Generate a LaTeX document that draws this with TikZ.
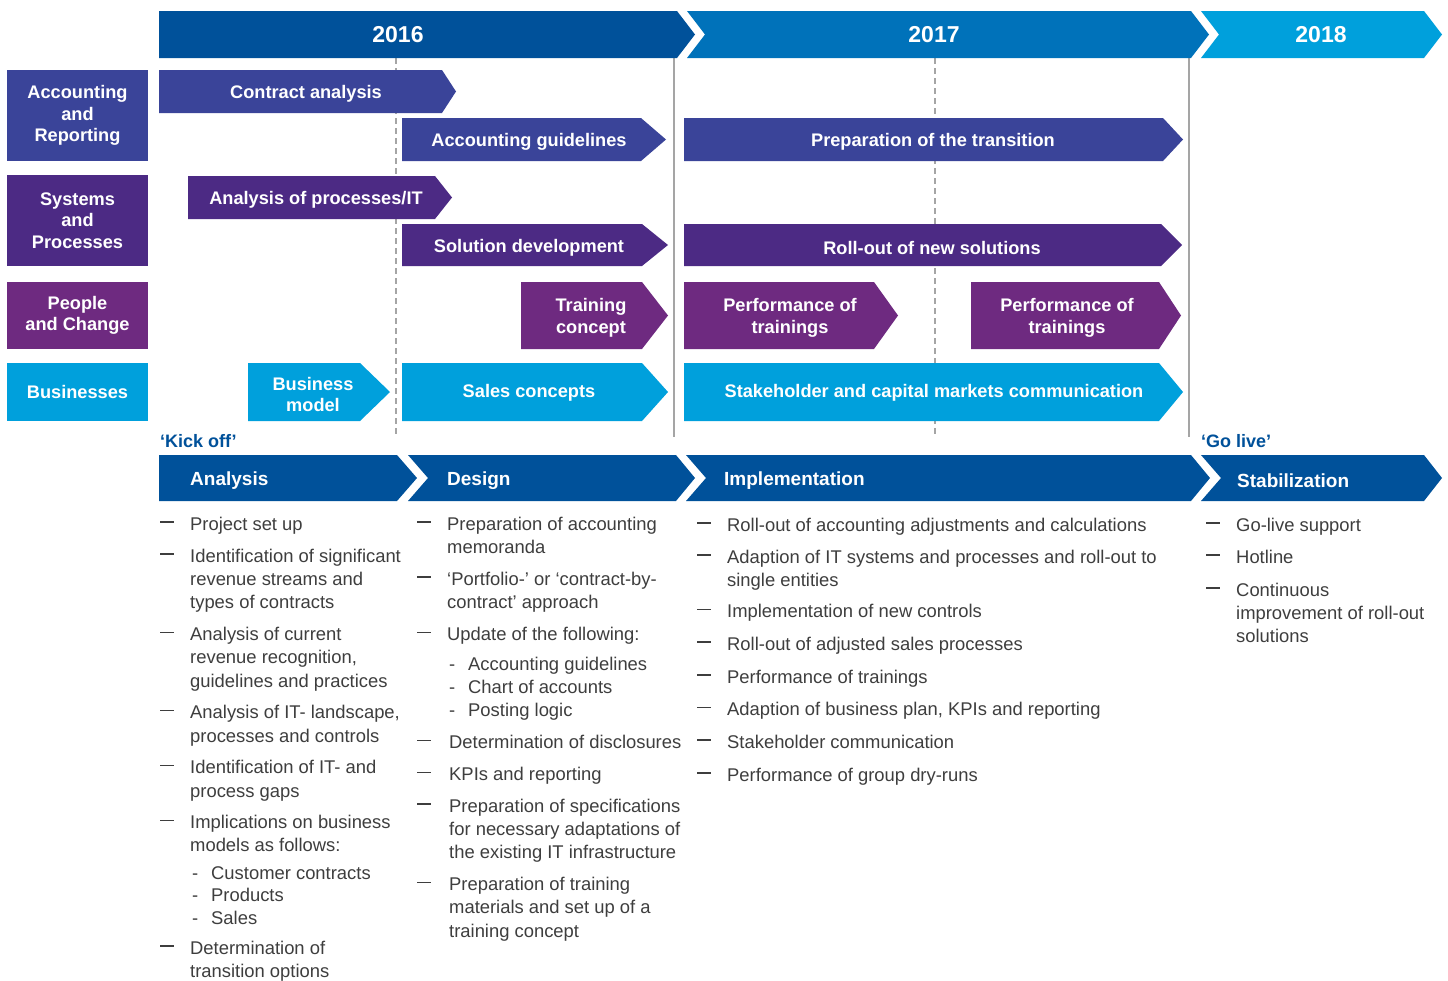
\documentclass[tikz,border=0pt]{standalone}
\usepackage{fontspec}
\setmainfont{Liberation Sans}
\usepackage{tikz}

\definecolor{yrA}{RGB}{0,81,154}
\definecolor{yrB}{RGB}{0,114,186}
\definecolor{yrC}{RGB}{0,160,220}
\definecolor{accblue}{RGB}{58,68,153}
\definecolor{syspurple}{RGB}{76,42,132}
\definecolor{pplpurple}{RGB}{110,42,128}
\definecolor{bodygray}{RGB}{62,62,62}
\definecolor{linegray}{RGB}{165,165,165}

\newcommand{\chev}[6]{\fill[#1] (#2,#5) -- (#3,#5) -- (#4,{(#5+#6)/2}) -- (#3,#6) -- (#2,#6) -- cycle;}
\newcommand{\chevn}[7]{\fill[#1] (#2,#6) -- (#4,#6) -- (#5,{(#6+#7)/2}) -- (#4,#7) -- (#2,#7) -- (#3,{(#6+#7)/2}) -- cycle;}
\newcommand{\dsh}[1][30pt]{\makebox[#1][l]{\rule[7.5pt]{14pt}{1.4pt}}}
\newcommand{\ind}[1][30pt]{\hspace*{#1}}
\newcommand{\subit}{\hspace*{32pt}\makebox[19pt][l]{-}}

\begin{document}
\begin{tikzpicture}[x=1pt,y=-1pt,
    bartxt/.style={text=white,font=\bfseries\fontsize{18.2}{21.5}\selectfont,align=center,inner sep=0pt,yshift=-2.5pt},
    rowlbl/.style={text=white,font=\bfseries\fontsize{18.2}{21.5}\selectfont,align=center,inner sep=0pt,minimum width=141pt},
    yeartxt/.style={text=white,font=\bfseries\fontsize{23}{27}\selectfont,inner sep=0pt},
    phasetxt/.style={text=white,font=\bfseries\fontsize{19}{23}\selectfont,inner sep=0pt,anchor=west,yshift=-2.5pt},
    miltxt/.style={text=yrA,font=\bfseries\fontsize{18}{22}\selectfont,inner sep=0pt,anchor=west},
    bodytxt/.style={text=bodygray,font=\fontsize{18.4}{23.3}\selectfont,align=left,inner sep=0pt,anchor=north west}]
  \fill[white] (0,0) rectangle (1448,980);
  \useasboundingbox (0,0) rectangle (1448,980);

  \draw[linegray,line width=1.2pt] (674,58) -- (674,437);
  \draw[linegray,line width=1.2pt] (1189,58) -- (1189,437);
  \draw[linegray,line width=1.2pt,dash pattern=on 6pt off 4pt] (396,58) -- (396,437);
  \draw[linegray,line width=1.2pt,dash pattern=on 6pt off 4pt] (935,58) -- (935,437);

  \chev{yrA}{159}{677}{695}{11}{58}
  \chevn{yrB}{687}{705}{1191}{1209}{11}{58}
  \chevn{yrC}{1201}{1219}{1424}{1442}{11}{58}
  \node[yeartxt] (y16) at (398,35) {2016};
  \node[yeartxt] (y17) at (934,35) {2017};
  \node[yeartxt] (y18) at (1321,35) {2018};

  \node[rowlbl,fill=accblue,minimum height=91pt] (accrow) at (77.5,115.5) {Accounting\\and\\Reporting};
  \node[rowlbl,fill=syspurple,minimum height=91pt] (sysrow) at (77.5,220.5) {Systems\\and\\Processes};
  \node[rowlbl,fill=pplpurple,minimum height=67pt] (pplrow) at (77.5,315.5) {People\\and Change};
  \node[rowlbl,fill=yrC,minimum height=58pt] (busrow) at (77.5,392) {Businesses};

  \chev{accblue}{159}{442}{456}{70}{113}
  \chev{accblue}{402}{641}{666}{118}{161}
  \chev{accblue}{684}{1163}{1183}{118}{161}
  \node[bartxt] (contract) at (306,91.5) {Contract analysis};
  \node[bartxt] (guide) at (529,139.5) {Accounting guidelines};
  \node[bartxt] (transit) at (933,139.5) {Preparation of the transition};

  \chev{syspurple}{188}{435}{452}{176}{219}
  \chev{syspurple}{402}{642}{668}{224}{266}
  \chev{syspurple}{684}{1161}{1182}{224}{266}
  \node[bartxt] (procit) at (316,197.5) {Analysis of processes/IT};
  \node[bartxt] (soldev) at (529,245) {Solution development};
  \node[bartxt] (rollout) at (932,245) {Roll-out of new solutions};

  \chev{pplpurple}{521}{642}{668}{282}{349}
  \chev{pplpurple}{684}{874}{898}{282}{349}
  \chev{pplpurple}{971}{1159}{1181}{282}{349}
  \node[bartxt] (trconc) at (591,315.5) {Training\\concept};
  \node[bartxt] (perfa) at (790,315.5) {Performance of\\trainings};
  \node[bartxt] (perfb) at (1067,315.5) {Performance of\\trainings};

  \chev{yrC}{248}{360}{390}{363}{421}
  \chev{yrC}{402}{642}{668}{363}{421}
  \chev{yrC}{684}{1159}{1183}{363}{421}
  \node[bartxt] (busmod) at (313,392) {Business\\model};
  \node[bartxt] (sales) at (529,390) {Sales concepts};
  \node[bartxt] (stake) at (934,390) {Stakeholder and capital markets communication};

  \node[miltxt] (kickoff) at (160,441) {‘Kick off’};
  \node[miltxt] (golive) at (1201,441) {‘Go live’};

  \chev{yrA}{159}{397}{417}{455}{501}
  \chevn{yrA}{408}{428}{676}{695}{455}{501}
  \chevn{yrA}{686}{706}{1191}{1210}{455}{501}
  \chevn{yrA}{1201}{1221}{1424}{1442}{455}{501}
  \node[phasetxt] (ana) at (190,478) {Analysis};
  \node[phasetxt] (des) at (447,478) {Design};
  \node[phasetxt] (imp) at (724,478) {Implementation};
  \node[phasetxt] (sta) at (1237,478) {Stabilization};

  \node[bodytxt] (anacol) at (160,513.7) {\strut\dsh Project set up\\[8.5pt]
    \dsh Identification of significant\\
    \ind revenue streams and\\
    \ind types of contracts\\[8.5pt]
    \dsh Analysis of current\\
    \ind revenue recognition,\\
    \ind guidelines and practices\\[8.5pt]
    \dsh Analysis of IT- landscape,\\
    \ind processes and controls\\[8.5pt]
    \dsh Identification of IT- and\\
    \ind process gaps\\[8pt]
    \dsh Implications on business\\
    \ind models as follows:\\[4pt]
    \subit Customer contracts\\[-0.5pt]
    \subit Products\\[-0.5pt]
    \subit Sales\\[6pt]
    \dsh Determination of\\
    \ind transition options};

  \node[bodytxt] (descol) at (417,513.7) {\strut\dsh Preparation of accounting\\
    \ind memoranda\\[8.5pt]
    \dsh ‘Portfolio-’ or ‘contract-by-\\
    \ind contract’ approach\\[8.5pt]
    \dsh Update of the following:\\[6.5pt]
    \subit Accounting guidelines\\
    \subit Chart of accounts\\
    \subit Posting logic\\[8.5pt]
    \dsh[32pt]Determination of disclosures\\[8.5pt]
    \dsh[32pt]KPIs and reporting\\[8.5pt]
    \dsh[32pt]Preparation of specifications\\
    \ind[32pt]for necessary adaptations of\\
    \ind[32pt]the existing IT infrastructure\\[8.5pt]
    \dsh[32pt]Preparation of training\\
    \ind[32pt]materials and set up of a\\
    \ind[32pt]training concept};

  \node[bodytxt] (impcol) at (697,514.7) {\strut\dsh Roll-out of accounting adjustments and calculations\\[8.7pt]
    \dsh Adaption of IT systems and processes and roll-out to\\
    \ind single entities\\[7.7pt]
    \dsh Implementation of new controls\\[9.5pt]
    \dsh Roll-out of adjusted sales processes\\[9.5pt]
    \dsh Performance of trainings\\[9pt]
    \dsh Adaption of business plan, KPIs and reporting\\[9.5pt]
    \dsh Stakeholder communication\\[9.5pt]
    \dsh Performance of group dry-runs};

  \node[bodytxt] (stacol) at (1206,514.7) {\strut\dsh Go-live support\\[8.7pt]
    \dsh Hotline\\[9.5pt]
    \dsh Continuous\\
    \ind improvement of roll-out\\
    \ind solutions};
\end{tikzpicture}
\end{document}
